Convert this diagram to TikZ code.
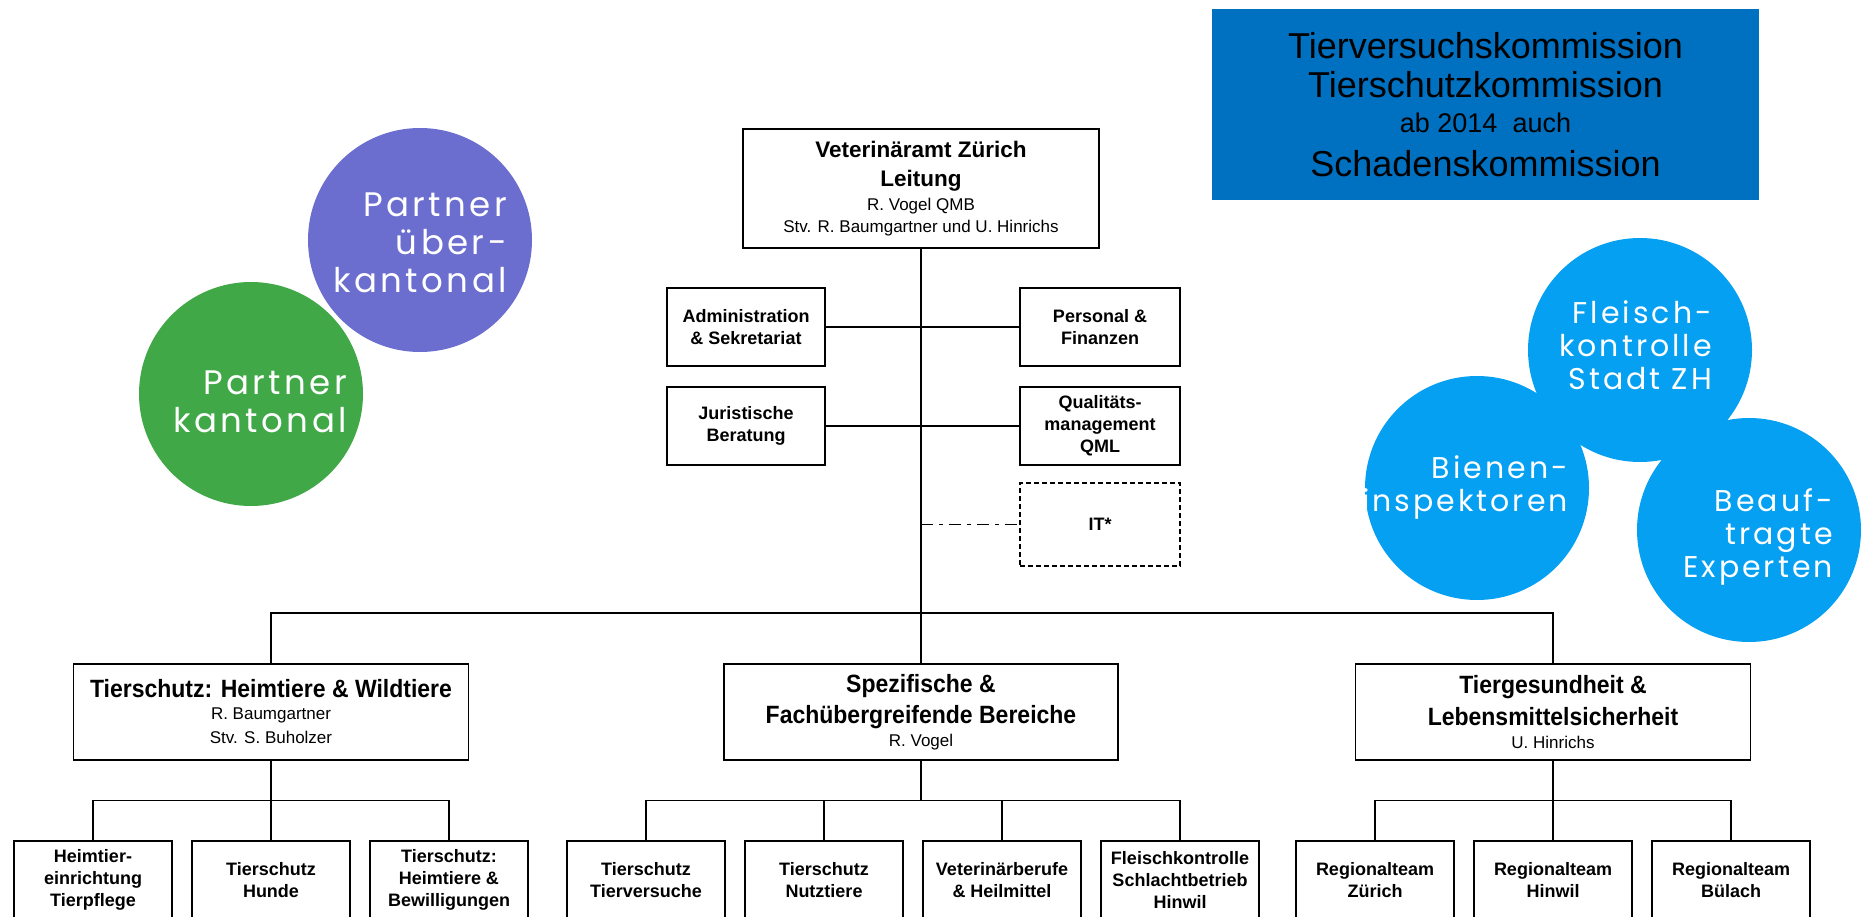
\documentclass[tikz,border=0pt]{standalone}
\usepackage{fontspec}
\setmainfont{Liberation Sans}
\newfontfamily\circfont[LetterSpace=10]{Poppins}
\newfontfamily\bereichfamily[FakeStretch=0.92]{Liberation Sans}

\definecolor{kommblue}{RGB}{0,112,192}
\definecolor{partnerviolet}{RGB}{107,110,207}
\definecolor{partnergreen}{RGB}{64,168,70}
\definecolor{aussenblue}{RGB}{5,160,242}

\newcommand{\leitungsfont}{\bfseries\fontsize{22.5}{27}\selectfont}
\newcommand{\bereichsfont}{\bereichfamily\bfseries\fontsize{25}{30}\selectfont}

\tikzset{
	orgbox/.style={draw, line width=1.3pt, inner sep=0pt, align=center, minimum height=78pt},
	smallbox/.style={orgbox, minimum width=158pt, font=\bfseries\fontsize{18}{22}\selectfont},
	bereichbox/.style={orgbox, minimum width=395pt, minimum height=96pt, font=\fontsize{17}{22}\selectfont},
	orgline/.style={line width=1.3pt},
	kreis/.style={circle, inner sep=0pt, minimum size=224pt, draw=none},
	kreistext/.style={anchor=east, inner sep=0pt, align=right, text=white},
}

\begin{document}
\begin{tikzpicture}[x=1pt,y=-1pt]
			\useasboundingbox (0,0) rectangle (1861,917);
			\fill[white] (0,0) rectangle (1861,917);
			\clip (0,0) rectangle (1861,917);
			% Kommissionen
			\node[fill=kommblue, minimum width=547pt, minimum height=191pt, inner sep=0pt, align=center, font=\fontsize{36}{35}\selectfont] (kommission) at (1485.5,104.5) {Tierversuchskommission\\[4pt] Tierschutzkommission\\ {\fontsize{27}{30}\selectfont ab 2014\ \ auch}\\[9pt] Schadenskommission};
			% Partner
			\node[kreis, fill=partnergreen] (kantonal) at (251,394) {};
			\node[kreis, fill=partnerviolet] (ueberkantonal) at (420,240) {};
			\node[kreistext, font=\circfont\fontsize{34}{38}\selectfont] (kantonaltext) at (347,402) {Partner\\kantonal};
			\node[kreistext, font=\circfont\fontsize{34}{38}\selectfont] (ueberkantonaltext) at (507,243) {Partner\\über-\\kantonal};
			% externe Stellen
			\node[kreis, fill=aussenblue] (fleisch) at (1640,350) {};
			\node[kreis, fill=aussenblue] (bienen) at (1477,488) {};
			\node[kreis, fill=aussenblue] (experten) at (1749,530) {};
			\node[kreistext, font=\circfont\fontsize{30}{33}\selectfont] (fleischtext) at (1712,345) {Fleisch-\\kontrolle\\Stadt ZH};
			\node[kreistext, font=\circfont\fontsize{30}{33}\selectfont] (bienentext) at (1568,487) {Bienen-\\inspektoren};
			\node[kreistext, font=\circfont\fontsize{30}{33}\selectfont] (expertentext) at (1833,537) {Beauf-\\tragte\\Experten};
			% Leitung und Stab
			\node[orgbox, minimum width=356pt, minimum height=119pt, font=\fontsize{17}{22}\selectfont] (leitung) at (921,188.5) {{\leitungsfont Veterinäramt Zürich}\\[7pt] {\leitungsfont Leitung}\\[2pt] R. Vogel QMB\\ Stv. R. Baumgartner und U. Hinrichs};
			\node[smallbox] (admin) at (746,327) {Administration\\\& Sekretariat};
			\node[smallbox, minimum width=160pt] (personal) at (1100,327) {Personal \&\\Finanzen};
			\node[smallbox] (jurist) at (746,426) {Juristische\\Beratung};
			\node[smallbox, minimum width=160pt] (quali) at (1100,426) {Qualitäts-\\management\\QML};
			\node[smallbox, minimum width=160pt, minimum height=83pt, dash pattern=on 5pt off 3pt] (it) at (1100,524.5) {IT*};
			% Bereiche
			\node[bereichbox] (heimtiere) at (271,712) {{\bereichsfont Tierschutz: Heimtiere \& Wildtiere}\\ R. Baumgartner\\[2pt] Stv. S. Buholzer};
			\node[bereichbox, minimum width=394pt] (spezifisch) at (921,712) {{\bereichsfont Spezifische \&}\\[7pt] {\bereichsfont Fachübergreifende Bereiche}\\[1pt] R. Vogel};
			\node[bereichbox] (tiergesundheit) at (1553,712) {{\bereichsfont Tiergesundheit \&}\\[7pt] {\bereichsfont Lebensmittelsicherheit}\\[1pt] U. Hinrichs};
			% Abteilungen
			\node[smallbox] (heimA) at (93,880) {Heimtier-\\einrichtung\\Tierpflege};
			\node[smallbox] (heimB) at (271,880) {Tierschutz\\Hunde};
			\node[smallbox] (heimC) at (449,880) {Tierschutz:\\Heimtiere \&\\Bewilligungen};
			\node[smallbox] (spezA) at (646,880) {Tierschutz\\Tierversuche};
			\node[smallbox] (spezB) at (824,880) {Tierschutz\\Nutztiere};
			\node[smallbox] (spezC) at (1002,880) {Veterinärberufe\\\& Heilmittel};
			\node[smallbox] (spezD) at (1180,880) {Fleischkontrolle\\Schlachtbetrieb\\Hinwil};
			\node[smallbox] (gesA) at (1375,880) {Regionalteam\\Zürich};
			\node[smallbox] (gesB) at (1553,880) {Regionalteam\\Hinwil};
			\node[smallbox] (gesC) at (1731,880) {Regionalteam\\Bülach};
			% Linien
			\draw[orgline] (leitung.south) -- (spezifisch.north);
			\draw[orgline] (admin.east) -- (personal.west);
			\draw[orgline] (jurist.east) -- (quali.west);
			\coordinate (itabzweig) at (leitung.south |- it.west);
			\draw[orgline, dash pattern=on 12pt off 6pt on 4pt off 6pt] (itabzweig) -- (it.west);
			\coordinate (verteiler) at (921,613);
			\draw[orgline] (heimtiere.north) |- (verteiler) -| (tiergesundheit.north);
			\draw[orgline] (heimtiere.south) -- (heimB.north);
			\draw[orgline] (heimA.north) -- ++(0,-40) -| (heimC.north);
			\draw[orgline] (spezifisch.south) -- ++(0,40);
			\draw[orgline] (spezA.north) -- ++(0,-40) -| (spezD.north);
			\draw[orgline] (spezB.north) -- ++(0,-40);
			\draw[orgline] (spezC.north) -- ++(0,-40);
			\draw[orgline] (tiergesundheit.south) -- (gesB.north);
			\draw[orgline] (gesA.north) -- ++(0,-40) -| (gesC.north);
		\end{tikzpicture}
\end{document}
